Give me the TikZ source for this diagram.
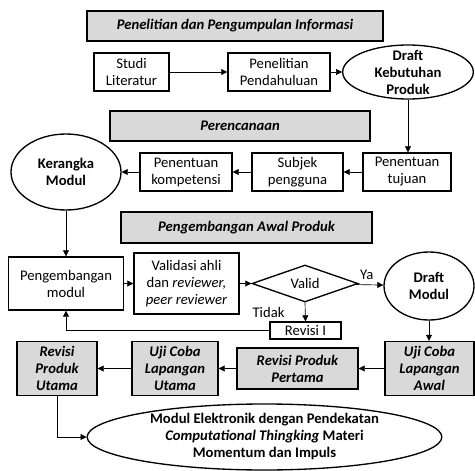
\documentclass[tikz,border=0pt]{standalone}
\usepackage{fontspec}
\setmainfont{Carlito}
\usetikzlibrary{arrows.meta,positioning,shapes.geometric}
\newcommand{\diafont}{\fontsize{11}{12.75}\selectfont}

\begin{document}
\begin{tikzpicture}[
      x=0.75pt, y=-0.75pt,
      every node/.style={font=\diafont, align=center},
      mybox/.style={
         rectangle,
         draw=black,
         line width=1pt,
         inner sep=0pt},
      myphase/.style={
         mybox,
         fill=gray!30,
         font=\diafont\bfseries\itshape},
      myoval/.style={
         ellipse,
         draw=black,
         line width=1pt,
         inner sep=0pt},
      myovaltext/.style={font=\diafont\bfseries, inner sep=0pt},
      myarrow/.style={-{Triangle[length=4.5pt,width=4.5pt]}, line width=0.5pt}
      ]
      \useasboundingbox (0,0) rectangle (475,471);

      % Penelitian dan Pengumpulan Informasi
      \node[myphase, minimum width=222pt, minimum height=22.5pt] (head1) at (235,26) {Penelitian dan Pengumpulan Informasi};
      \node[mybox, minimum width=56.25pt, minimum height=28.5pt] (studi) at (131.5,72) {Studi\\Literatur};
      \node[mybox, minimum width=76.5pt, minimum height=28.5pt] (pendahuluan) at (279,72) {Penelitian\\Pendahuluan};
      \node[myoval, minimum width=98pt, minimum height=40.5pt,
            label={[myovaltext]center:Draft\\Kebutuhan\\Produk}] (dkp) at (408,72) {};

      % Perencanaan
      \node[myphase, minimum width=195pt, minimum height=22.5pt] (head2) at (240,126) {Perencanaan};
      \node[mybox, minimum width=66pt, minimum height=28.5pt] (tujuan) at (407,172) {Penentuan\\tujuan};
      \node[mybox, minimum width=68.25pt, minimum height=28.5pt] (subjek) at (297.5,172) {Subjek\\pengguna};
      \node[mybox, minimum width=69pt, minimum height=28.5pt] (kompetensi) at (186,172) {Penentuan\\kompetensi};
      \node[myoval, minimum width=82.5pt, minimum height=57pt,
            label={[myovaltext]center:Kerangka\\Modul}] (kerangka) at (66,172) {};

      % Pengembangan Awal Produk
      \node[myphase, minimum width=188.25pt, minimum height=23.25pt] (head3) at (246.5,227.5) {Pengembangan Awal Produk};
      \node[mybox, minimum width=86.25pt, minimum height=39.75pt] (pmodul) at (66,283.5) {Pengembangan\\modul};
      \node[mybox, minimum width=78.75pt, minimum height=45.75pt] (validasi) at (186.5,283.5) {Validasi ahli\\dan \textit{reviewer,}\\\textit{peer reviewer}};
      \node[diamond, draw=black, line width=1pt, inner sep=0pt, aspect=2.86,
            minimum width=79.5pt, minimum height=27.75pt] (valid) at (305,283.5) {Valid};
      \node[myoval, minimum width=67.5pt, minimum height=51pt,
            label={[myovaltext]center:Draft\\Modul}] (dmodul) at (429,286) {};
      \node[mybox, minimum width=53.25pt, minimum height=12.75pt] (revisi1) at (305.5,330.5) {Revisi I};

      \node[myphase, minimum width=66.75pt, minimum height=40.5pt] (ujiawal) at (429.5,368.5) {Uji Coba\\Lapangan\\Awal};
      \node[myphase, minimum width=90.75pt, minimum height=30.75pt] (revpertama) at (297.5,368.5) {Revisi Produk\\Pertama};
      \node[myphase, minimum width=64.5pt, minimum height=40.5pt] (ujiutama) at (175,368.5) {Uji Coba\\Lapangan\\Utama};
      \node[myphase, minimum width=60pt, minimum height=40.5pt] (revutama) at (57,368.5) {Revisi\\Produk\\Utama};
      \node[myoval, minimum width=266pt, minimum height=49.5pt,
            label={[myovaltext]center:Modul Elektronik dengan Pendekatan\\\textit{Computational Thingking} Materi\\Momentum dan Impuls}] (final) at (264.5,437) {};

    \foreach \i/\j in {% start node/end node
      studi/pendahuluan,
      pendahuluan/dkp,
      tujuan/subjek,
      subjek/kompetensi,
      kompetensi/kerangka,
      pmodul/validasi,
      validasi/valid,
      ujiawal/revpertama,
      revpertama/ujiutama,
      ujiutama/revutama}
       \draw [myarrow] (\i) -- (\j);

    \draw[myarrow] (dkp.south) -- (dkp.south |- tujuan.north);
    \draw[myarrow] (kerangka.south) -- (kerangka.south |- pmodul.north);
    \draw[myarrow] (valid) -- node[above, pos=0.4] {Ya} (dmodul);
    \draw[myarrow] (valid.south) -- node[left=12pt] {Tidak} (revisi1.north);
    \draw[myarrow] (revisi1.west) -| (pmodul.south);
    \draw[myarrow] (dmodul.south) -- (dmodul.south |- ujiawal.north);
    \draw[myarrow] (revutama.south) |- (final.west);

    \end{tikzpicture}
\end{document}
